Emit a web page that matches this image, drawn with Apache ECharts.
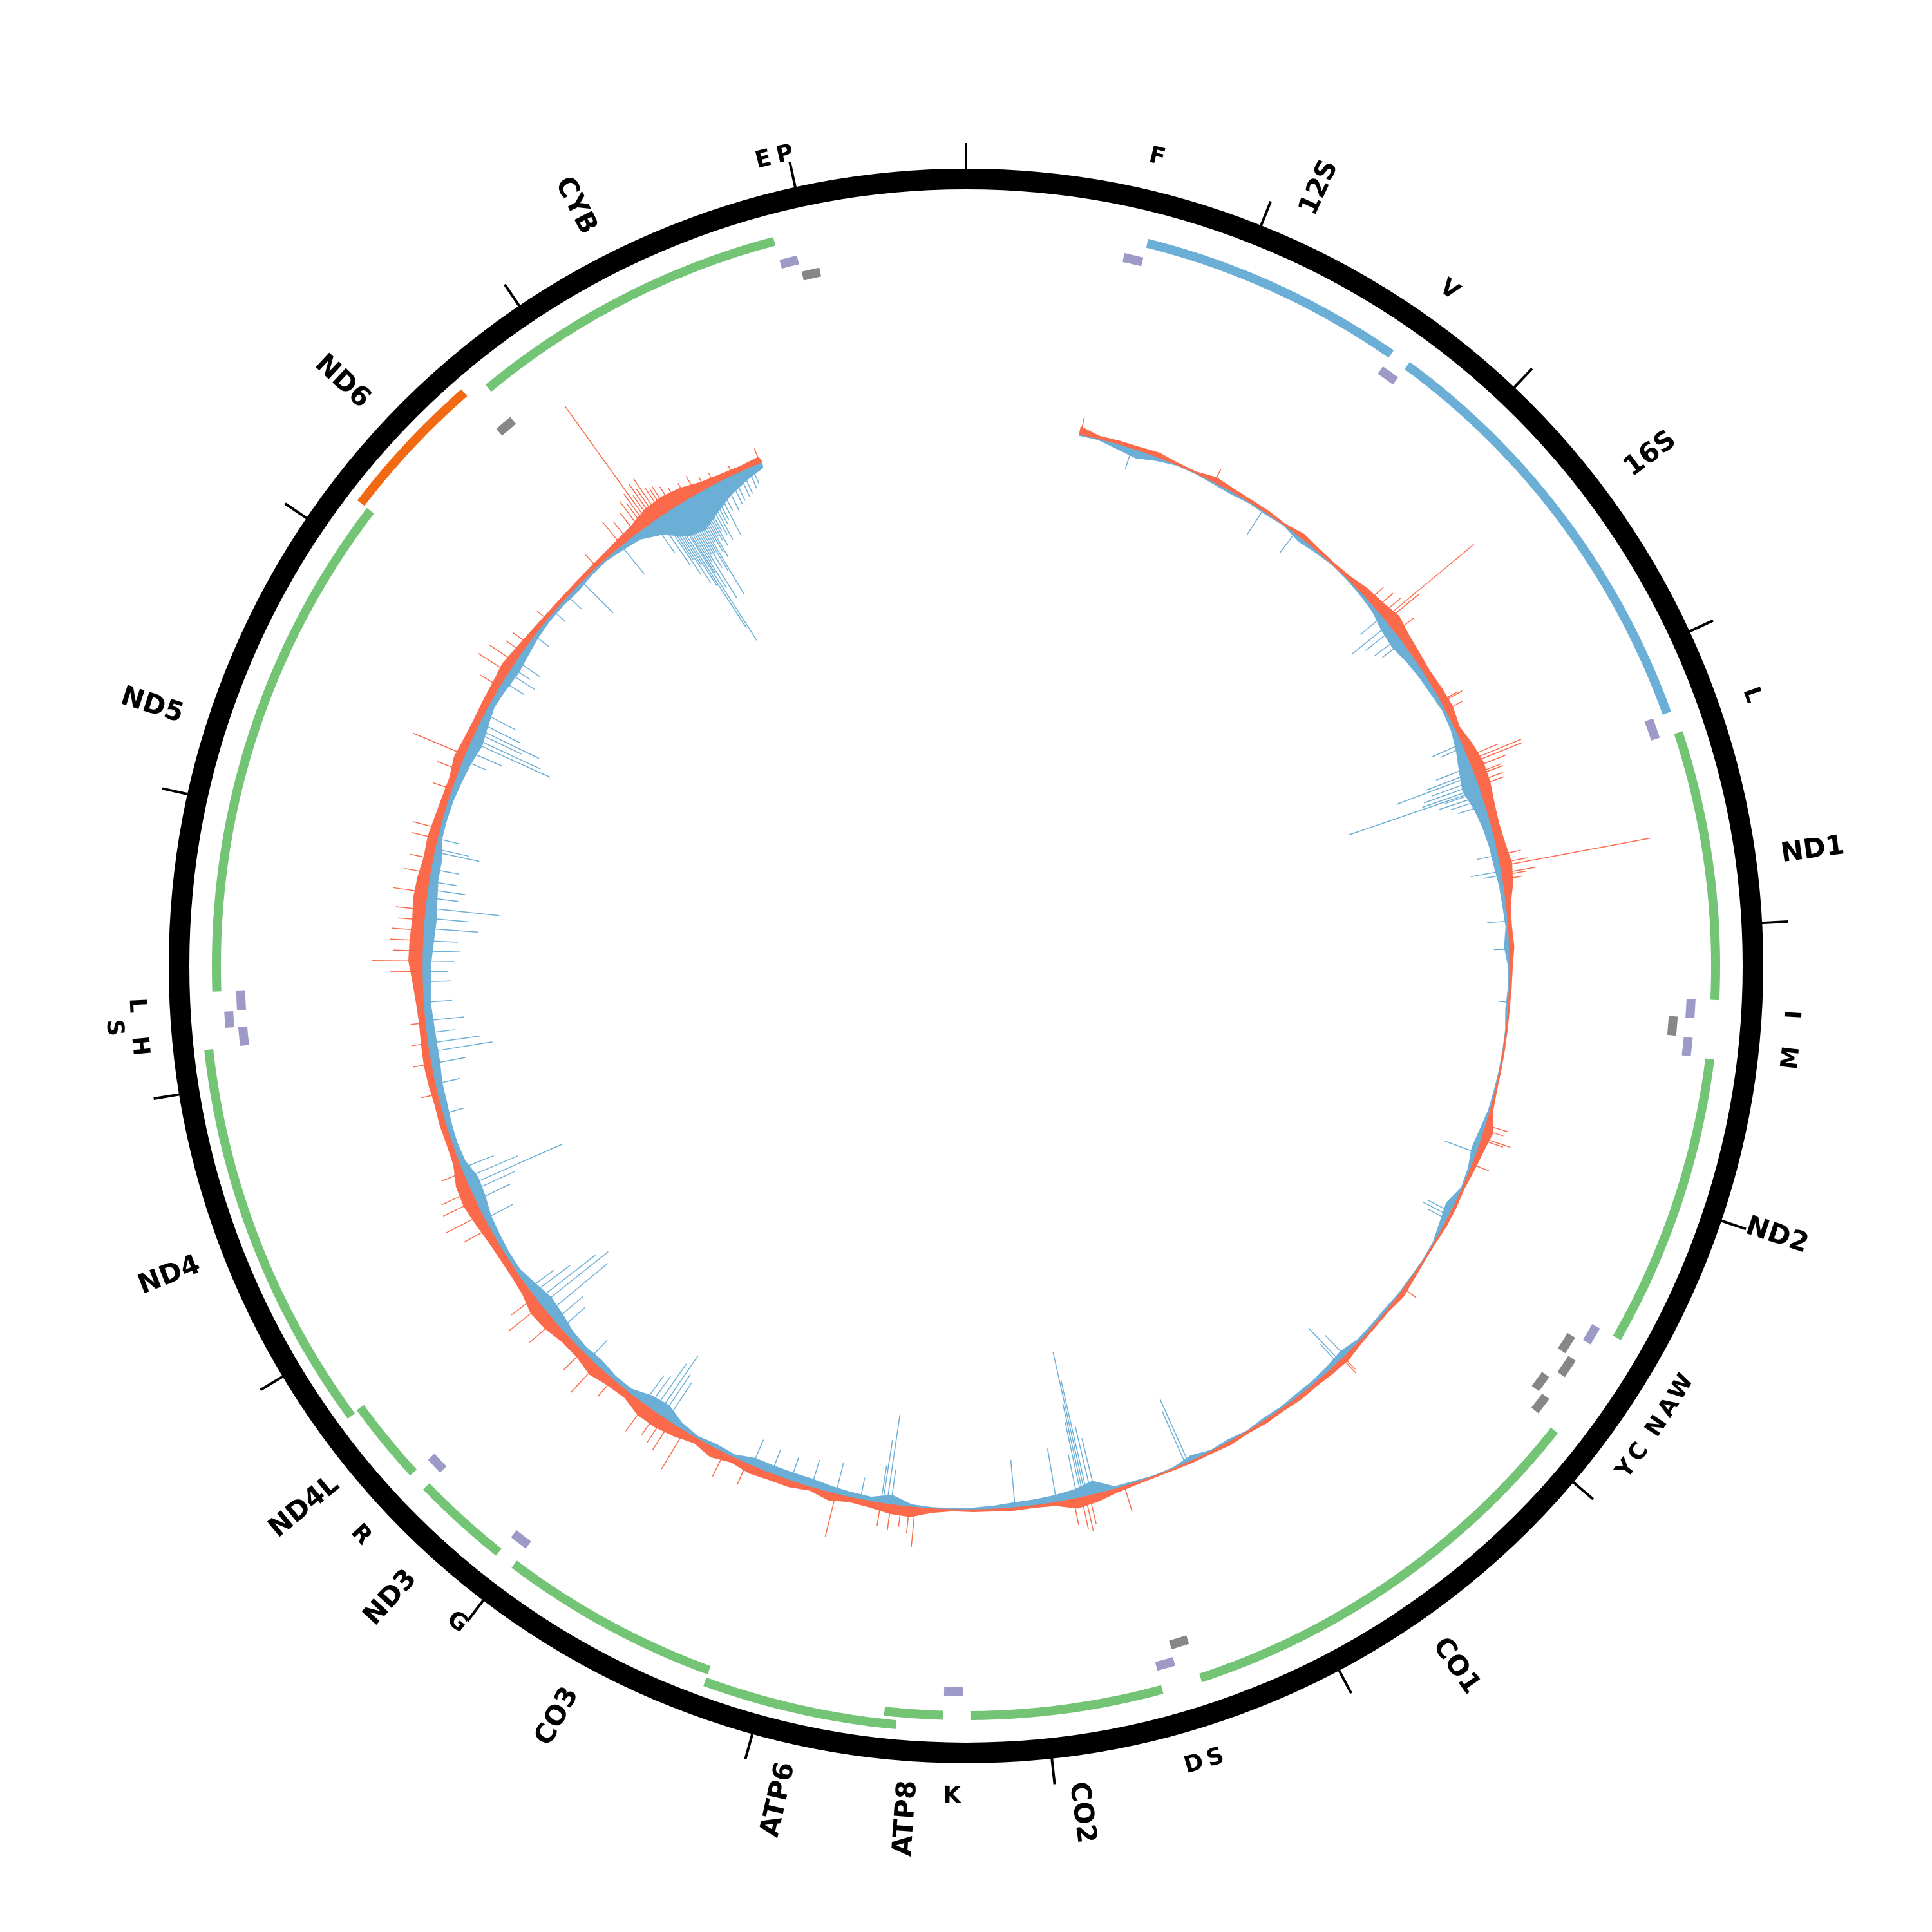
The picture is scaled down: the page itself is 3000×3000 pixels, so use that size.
<!DOCTYPE html>
<html>
<head>
<meta charset="utf-8">
<title>mtDNA coverage circle</title>
<script src="https://cdn.jsdelivr.net/npm/echarts@6/dist/echarts.min.js"></script>
<style>
  html, body { margin: 0; padding: 0; background: #fff; }
  #chart { width: 3000px; height: 3000px; }
</style>
</head>
<body>
<div id="chart"></div>
<script>
// genome + ticks
var genomeLength = 16569;
var tickPositions = [0,1000,2000,3000,4000,5000,6000,7000,8000,9000,10000,11000,12000,13000,14000,15000,16000];

// features (rCRS coordinates)
var featNames = ['F','12S','V','16S','L1','ND1','I','Q','M','ND2','W','A','N','C','Y','CO1','S1','D','CO2','K','ATP8','ATP6','CO3','G','ND3','R','ND4L','ND4','H','S2','L2','ND5','ND6','E','CYB','T','P'];
var featStart = [577,648,1602,1671,3230,3307,4263,4329,4402,4470,5512,5587,5657,5761,5826,5904,7446,7518,7586,8295,8366,8527,9207,9991,10059,10405,10470,10760,12138,12207,12266,12337,14149,14674,14747,15888,15956];
var featEnd   = [647,1601,1670,3229,3304,4262,4331,4400,4469,5511,5579,5655,5729,5826,5891,7445,7514,7585,8269,8364,8572,9207,9990,10058,10404,10469,10766,12137,12206,12265,12336,14148,14673,14742,15887,15953,16023];
var featKind  = ['trnaH','rrna','trnaH','rrna','trnaH','pcg','trnaH','trnaL','trnaH','pcg','trnaH','trnaL','trnaL','trnaL','trnaL','pcg','trnaL','trnaH','pcg','trnaH','pcg','pcg','pcg','trnaH','pcg','trnaH','pcg','pcg','trnaH','trnaH','trnaH','pcg','pcgL','trnaL','pcg','trnaH','trnaL'];

// labels as printed round the ring
var labelText   = ['F','12S','V','16S','L','ND1','I','M','ND2','W','A','N','C','Y','CO1','S','D','CO2','K','ATP8','ATP6','CO3','G','ND3','R','ND4L','ND4','H','S','L','ND5','ND6','E','P','CYB'];
var labelPos    = [612,1125,1636,2450,3267,3785,4297,4435,4990,5545,5621,5693,5793,5858,6675,7480,7551,7927,8329,8469,8867,9598,10024,10231,10437,10618,11448,12172,12236,12301,13242,14411,15920,15990,15317];
var labelIsGene = [0,1,0,1,0,1,0,0,1,0,0,0,0,0,1,0,0,1,0,1,1,1,0,1,0,1,1,0,0,0,1,1,0,0,1];

// signal track: dense core per 100 bp bin from 500, outward (red) and inward (blue)
var sigStart = 552, sigEnd = 15556;
var binFirst = 550, binSize = 100;
var redEnv = [
  12,4,5,5,7,3,2,8,5,4,
  4,2,7,4,3,5,11,14,20,14,
  11,9,11,12,7,14,19,18,14,12,
  14,18,14,6,5,7,4,3,2,2,
  2,2,2,4,14,9,6,3,4,4,
  2,2,4,7,3,3,4,8,7,5,
  6,4,5,3,5,3,3,2,2,3,
  6,12,15,5,3,4,3,3,2,6,
  15,14,9,7,12,5,10,10,12,8,
  15,8,15,19,19,10,12,18,12,12,
  18,20,12,10,10,12,16,20,18,9,
  8,9,8,10,11,10,9,11,15,21,
  20,18,20,18,14,15,12,10,9,14,
  11,10,11,12,15,11,8,6,5,5,
  6,7,10,14,22,24,20,12,9,7,
  9];
var blueEnv = [
  3,3,9,14,7,2,2,4,5,3,
  4,2,8,5,2,3,5,8,16,19,
  14,11,9,6,8,14,22,28,20,15,
  12,11,8,7,5,9,3,3,5,2,
  2,2,3,4,8,11,5,3,14,9,
  3,2,3,3,5,5,5,11,8,6,
  6,4,5,2,5,3,9,3,2,4,
  5,22,15,12,10,9,6,4,3,3,
  5,16,8,9,11,14,14,14,14,6,
  8,5,10,22,19,8,8,12,10,12,
  18,21,15,8,8,10,12,18,20,11,
  9,10,12,12,15,15,14,12,14,15,
  18,20,18,15,15,8,8,9,12,15,
  20,15,10,12,15,12,8,6,6,8,
  5,4,8,12,26,50,56,42,28,18,
  10];
// single reads standing out of the core: [position, length]
var redSpikes = [
  [560,26],[1250,22],[2200,30],[2250,35],[2290,40],[2315,180],[2330,65],[2400,35],[2800,28],[2807,36],[2850,30],
  [3100,50],[3120,86],[3135,86],[3160,55],[3190,44],[3200,45],[3230,41],[3250,40],[3600,35],[3640,43],[3655,236],
  [3690,51],[3700,38],[3720,30],[4925,36],[4950,30],[4990,46],[5000,35],[5127,27],[5817,23],[6260,25],[6270,30],
  [7505,41],[7680,45],[7700,54],[7720,50],[7760,40],[8532,61],[8560,40],[8600,32],[8650,40],[8700,35],[8922,68],
  [9380,35],[9500,40],[9720,68],[9800,50],[9840,45],[9880,40],[9950,50],[10150,35],[10255,58],[10350,40],[10550,50],
  [10650,64],[10700,45],[11100,45],[11176,63],[11250,55],[11300,50],[11400,35],[11800,25],[11950,27],[12050,25],
  [12150,22],[12400,50],[12450,78],[12500,45],[12550,50],[12600,48],[12650,40],[12700,45],[12785,53],[12880,40],
  [12950,35],[13050,40],[13100,43],[13300,30],[13400,35],[13478,87],[13850,35],[13930,55],[13990,47],[14050,30],
  [14100,28],[14250,20],[14600,25],[14760,46],[14800,35],[14850,40],[14880,55],[14900,45],[14915,60],[14930,225],
  [14945,50],[14960,68],[14975,55],[14990,71],[15010,50],[15025,42],[15040,45],[15070,38],[15100,30],[15150,28],
  [15200,31],[15250,20],[15300,18],[15400,15],[15545,23]];
var blueSpikes = [
  [818,35],[1523,45],[1713,40],[2300,45],[2350,75],[2380,55],[2430,48],[2460,40],[3030,53],[3050,40],[3150,60],
  [3180,80],[3195,131],[3220,75],[3240,90],[3260,95],[3272,216],[3280,60],[3300,71],[3320,55],[3350,45],[3600,35],
  [3680,49],[3700,30],[3924,33],[4060,25],[4317,16],[5067,53],[5380,40],[5400,47],[5420,35],[6250,45],[6286,71],
  [6300,40],[7174,108],[7190,90],[7650,90],[7670,110],[7690,185],[7700,230],[7710,150],[7720,120],[7740,70],[7843,85],
  [8046,75],[8650,55],[8670,141],[8690,100],[8700,60],[8800,35],[8922,51],[9045,45],[9150,40],[9250,40],[9350,45],
  [9820,70],[9850,80],[9873,111],[9900,90],[9930,60],[9960,55],[10300,40],[10500,50],[10550,60],[10600,122],
  [10650,134],[10680,115],[10720,75],[10750,50],[11150,50],[11250,60],[11300,75],[11331,160],[11370,89],[11420,55],
  [11700,35],[11850,40],[11950,55],[12008,100],[12050,82],[12100,45],[12160,62],[12250,45],[12350,45],[12400,40],
  [12450,50],[12500,60],[12550,55],[12610,85],[12660,70],[12710,116],[12760,50],[12800,60],[12840,44],[12900,45],
  [12985,72],[13000,55],[13050,35],[13450,40],[13500,60],[13550,136],[13570,117],[13600,80],[13620,108],[13650,70],
  [13700,55],[13880,40],[13930,49],[13960,35],[14000,45],[14150,30],[14300,25],[14400,30],[14499,70],[14757,57],
  [14950,60],[14980,90],[15000,110],[15010,85],[15020,130],[15030,100],[15040,140],[15050,219],[15063,244],
  [15070,120],[15080,150],[15090,105],[15100,172],[15110,95],[15120,120],[15130,95],[15140,130],[15150,172],
  [15160,80],[15170,100],[15180,110],[15190,75],[15200,85],[15210,95],[15220,70],[15235,80],[15250,90],[15265,65],
  [15280,60],[15300,90],[15320,50],[15350,55],[15380,48],[15400,45],[15430,42],[15450,40],[15480,35],[15500,30]];

// ---- layout / style ----
var BASE_R = 845;
var RING_R = 1222;
var kindColor = { pcg: '#74c476', rrna: '#6baed6', pcgL: '#f16913', trnaH: '#9e9ac8', trnaL: '#878787' };
var kindRadius = {
  pcg:   [[1157, 1171], [1176, 1190]],
  rrna:  [[1150, 1164], [1150, 1164]],
  pcgL:  [[1176, 1190], [1176, 1190]],
  trnaH: [[1120, 1134], [1140, 1154]],
  trnaL: [[1094, 1108], [1114, 1128]]
};
var RED = '#fb6a4a', BLUE = '#6baed6';

// stack touching features on a second lane
var featLane = [];
var laneEnds = {};
featStart.forEach(function (s, i) {
  var k = featKind[i];
  var g = (k === 'pcg' || k === 'pcgL' || k === 'rrna') ? 'gene' : k;
  var ends = laneEnds[g] || (laneEnds[g] = [-1e9, -1e9]);
  var lane = (s > ends[0] + 3) ? 0 : 1;
  ends[lane] = Math.max(ends[lane], featEnd[i]);
  featLane.push(lane);
});

// lift a tRNA label squeezed between two close neighbours
var trnaIdx = [];
labelPos.forEach(function (p, i) { if (!labelIsGene[i]) trnaIdx.push(i); });
trnaIdx.sort(function (a, b) { return labelPos[a] - labelPos[b]; });
var labelLift = labelPos.map(function () { return 0; });
for (var t = 1; t < trnaIdx.length - 1; t++) {
  var c = labelPos[trnaIdx[t]];
  if (c - labelPos[trnaIdx[t - 1]] < 70 && labelPos[trnaIdx[t + 1]] - c < 70) labelLift[trnaIdx[t]] = 1;
}

function arcPoints(api, r0, r1, a0, a1) {
  var n = Math.max(2, Math.ceil((a1 - a0) / 15));
  var pts = [], k;
  for (k = 0; k <= n; k++) pts.push(api.coord([r1, a0 + (a1 - a0) * k / n]));
  for (k = n; k >= 0; k--) pts.push(api.coord([r0, a0 + (a1 - a0) * k / n]));
  return pts;
}

function envelopeSeries(vals, sign, color) {
  return {
    type: 'custom', coordinateSystem: 'polar', silent: true, data: [[0, 0]],
    renderItem: function (params, api) {
      var pts = [api.coord([BASE_R, sigStart])];
      vals.forEach(function (v, i) {
        var p = binFirst + binSize * i;
        if (p < sigStart) p = sigStart;
        if (p > sigEnd) p = sigEnd;
        pts.push(api.coord([BASE_R + sign * v, p]));
      });
      pts.push(api.coord([BASE_R, sigEnd]));
      for (var q = sigEnd; q >= sigStart; q -= 40) pts.push(api.coord([BASE_R, q]));
      return { type: 'polygon', shape: { points: pts }, style: { fill: color } };
    }
  };
}

function spikeSeries(list, sign, color) {
  return {
    type: 'custom', coordinateSystem: 'polar', silent: true, data: list,
    renderItem: function (params, api) {
      var pos = api.value(0), len = api.value(1);
      var p0 = api.coord([BASE_R, pos]), p1 = api.coord([BASE_R + sign * len, pos]);
      return { type: 'line', shape: { x1: p0[0], y1: p0[1], x2: p1[0], y2: p1[1] },
               style: { stroke: color, lineWidth: 1.5 } };
    }
  };
}

var featData = featStart.map(function (s, i) { return [s, featEnd[i], i]; });
var labelData = labelPos.map(function (p, i) { return [p, i]; });

var chart = echarts.init(document.getElementById('chart'));
chart.setOption({
  backgroundColor: '#fff',
  animation: false,
  polar: { center: ['50%', '50%'], radius: RING_R },
  angleAxis: {
    type: 'value', min: 0, max: genomeLength, interval: 1000,
    startAngle: 90, clockwise: true,
    axisLine: { show: true, lineStyle: { color: '#000', width: 32 } },
    axisTick: { show: true, inside: false, length: 56, lineStyle: { color: '#000', width: 4 } },
    axisLabel: { show: false }, splitLine: { show: false }
  },
  radiusAxis: { type: 'value', min: 0, max: RING_R, show: false,
    axisLine: { show: false }, axisTick: { show: false }, axisLabel: { show: false }, splitLine: { show: false } },
  series: [
    { // gene / tRNA tracks
      type: 'custom', coordinateSystem: 'polar', silent: true, data: featData,
      renderItem: function (params, api) {
        var i = api.value(2), k = featKind[i];
        var rr = kindRadius[k][featLane[i]];
        return { type: 'polygon', shape: { points: arcPoints(api, rr[0], rr[1], api.value(0), api.value(1)) },
                 style: { fill: kindColor[k] } };
      }
    },
    envelopeSeries(blueEnv, -1, BLUE),
    spikeSeries(blueSpikes, -1, BLUE),
    envelopeSeries(redEnv, 1, RED),
    spikeSeries(redSpikes, 1, RED),
    { // baseline
      type: 'custom', coordinateSystem: 'polar', silent: true, data: [[0, 0]],
      renderItem: function (params, api) {
        var pts = [];
        for (var q = sigStart; q <= sigEnd; q += 20) pts.push(api.coord([BASE_R, q]));
        return { type: 'polyline', shape: { points: pts }, style: { stroke: RED, lineWidth: 2.5, fill: null } };
      }
    },
    { // labels
      type: 'custom', coordinateSystem: 'polar', silent: true, data: labelData,
      renderItem: function (params, api) {
        var pos = api.value(0), i = api.value(1);
        var gene = labelIsGene[i] === 1;
        var r = gene ? 1327 : 1290 + 37 * labelLift[i];
        var p0 = api.coord([r, pos]), p1 = api.coord([r + 10, pos]);
        var a = Math.atan2(p1[1] - p0[1], p1[0] - p0[0]);
        var d = gene ? a : a + Math.PI / 2;
        if (Math.cos(d) < -1e-6) d += Math.PI;
        return {
          type: 'text', x: p0[0], y: p0[1], rotation: -d,
          style: { text: labelText[i], fill: '#000', fontFamily: 'DejaVu Sans', fontWeight: 'bold',
                   fontSize: gene ? 42 : 36, align: 'center', verticalAlign: 'middle' }
        };
      }
    }
  ]
});
</script>
</body>
</html>
